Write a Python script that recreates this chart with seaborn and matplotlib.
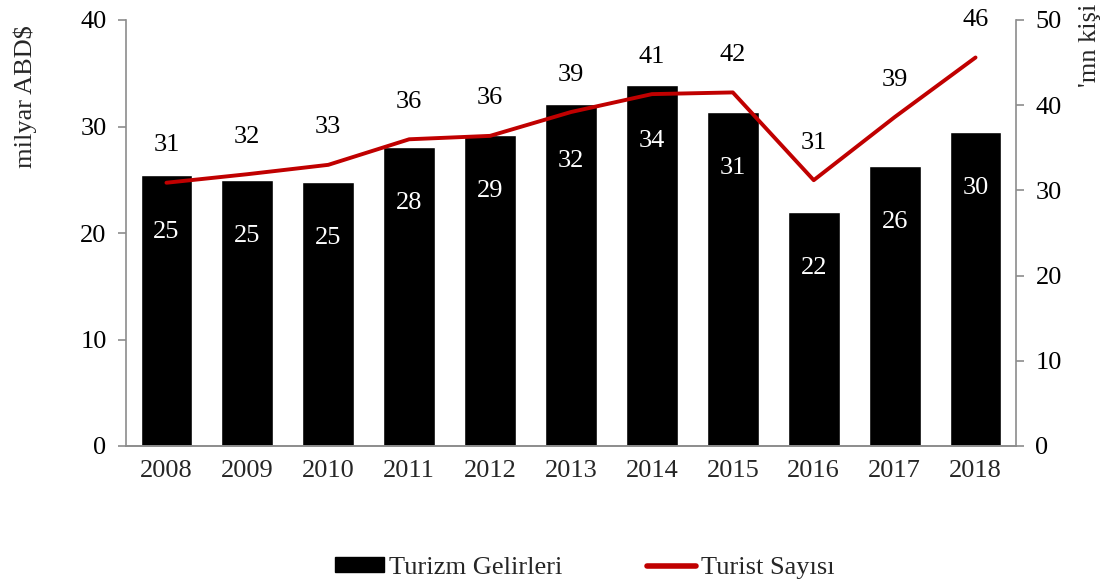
import numpy as np
import pandas as pd
import matplotlib
matplotlib.use("Agg")
import matplotlib.pyplot as plt
import seaborn as sns
from matplotlib.patches import Patch
from matplotlib.lines import Line2D

# ==== DATA ====
years = ["2008", "2009", "2010", "2011", "2012", "2013", "2014", "2015", "2016", "2017", "2018"]
revenue = [25.4, 25.0, 24.8, 28.1, 29.2, 32.1, 33.9, 31.4, 22.0, 26.3, 29.5]   # milyar ABD$
tourists = [30.9, 31.9, 33.0, 36.0, 36.4, 39.2, 41.3, 41.5, 31.2, 38.6, 45.6]  # mn kisi

bar_color = "#000000"
line_color = "#C00000"
spine_color = "#8C8C8C"

df = pd.DataFrame({"Year": years, "Revenue": revenue, "Tourists": tourists})
df["pos"] = np.arange(len(df))

sns.set_style("white")
plt.rcParams["font.family"] = ["Liberation Serif", "DejaVu Serif"]
fs = 19

fig = plt.figure(figsize=(11.07, 5.87), dpi=100)
ax = fig.add_axes([126 / 1107, 1 - 446 / 587, 890 / 1107, 426 / 587])
ax2 = ax.twinx()

sns.barplot(data=df, x="Year", y="Revenue", color=bar_color, width=0.64,
            saturation=1, ax=ax, zorder=2)
sns.lineplot(data=df, x="pos", y="Tourists", color=line_color, linewidth=2.8,
             ax=ax2, zorder=3)

ax.set_ylim(0, 40)
ax2.set_ylim(0, 50)
ax.set_xlim(-0.5, len(years) - 0.5)
ax.set_yticks(range(0, 41, 10))
ax2.set_yticks(range(0, 51, 10))

# bar labels (white, inside bars)
for i, v in enumerate(revenue):
    ax.text(i, v - 5.3, f"{v:.0f}", color="white", ha="center", va="center",
            fontsize=fs, zorder=4)

# line labels (black, above points)
for i, v in enumerate(tourists):
    ax2.annotate(f"{v:.0f}", (i, v), xytext=(0, 27), textcoords="offset points",
                 ha="center", va="center", fontsize=fs, color="black",
                 annotation_clip=False)

# styling
for a in (ax, ax2):
    a.spines["top"].set_visible(False)
    for s in ("left", "right", "bottom"):
        a.spines[s].set_color(spine_color)
        a.spines[s].set_linewidth(1.2)
    a.set_xlabel("")
    a.set_ylabel("")
    a.tick_params(axis="y", direction="out", length=6, width=1.2, color=spine_color,
                  labelsize=fs, labelcolor="black", pad=8)

ax.spines["right"].set_visible(False)
ax2.spines["left"].set_visible(False)

ax.set_xticks(np.arange(len(years)))
ax.set_xticklabels(years)
ax.set_xticks(np.arange(-0.5, len(years)), minor=True)
ax.tick_params(axis="x", which="major", length=0, labelsize=fs, pad=10)
ax.tick_params(axis="x", which="minor", direction="out", length=6, width=1.2,
               color=spine_color)

fig.text(25 / 1107, 1 - 25 / 587, "milyar ABD$", rotation=90, ha="center",
         va="top", fontsize=fs)
fig.text(1090 / 1107, 1 - 4 / 587, "'mn kişi", rotation=90, ha="center",
         va="top", fontsize=fs)

handles = [Patch(facecolor=bar_color, edgecolor=bar_color, label="Turizm Gelirleri"),
           Line2D([0], [0], color=line_color, linewidth=4, label="Turist Sayısı")]
fig.legend(handles=handles, loc="center", bbox_to_anchor=(585 / 1107, 1 - 568 / 587),
           ncol=2, frameon=False, fontsize=fs, handlelength=1.85, handleheight=0.5,
           handletextpad=0.2, columnspacing=3.2)

fig.savefig("out.png", dpi=100)
